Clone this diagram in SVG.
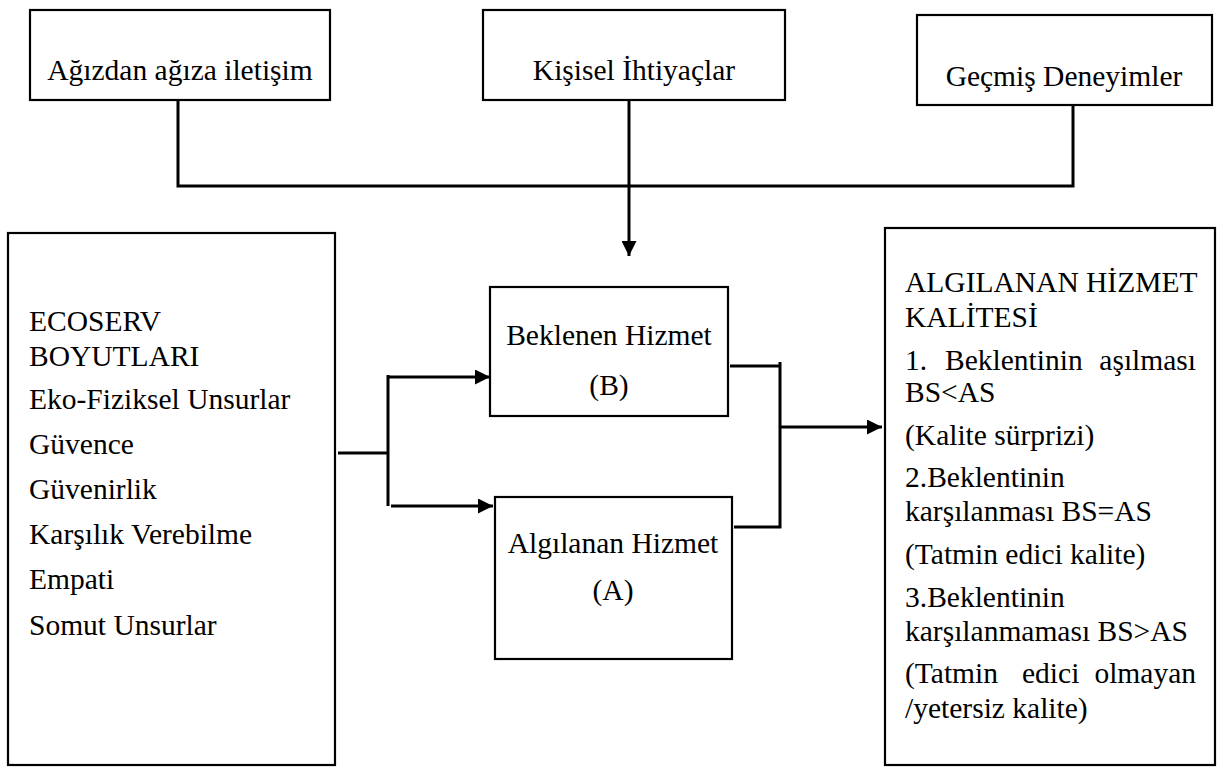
<svg xmlns="http://www.w3.org/2000/svg" width="1222" height="768" viewBox="0 0 1222 768">
<style>
.box{fill:#fff;stroke:#000;stroke-width:2.2}
.t{font-size:29.5px;fill:#000}
.c{text-anchor:middle}
.ln{fill:none;stroke:#000;stroke-width:3}
</style>
<defs>
<marker id="ah" viewBox="0 0 10 10" refX="10" refY="5" markerWidth="15" markerHeight="15" markerUnits="userSpaceOnUse" orient="auto">
<path d="M0,0 L10,5 L0,10 z" fill="#000"/>
</marker>
</defs>
<rect width="1222" height="768" fill="#fff"/>
<g id="connectors">
<path class="ln" d="M178,100 V186 H1073 V105"/>
<path class="ln" d="M629,100 V256" marker-end="url(#ah)"/>
<path class="ln" d="M338,453 H388"/>
<path class="ln" d="M388,375 V506"/>
<path class="ln" d="M388,377 H490" marker-end="url(#ah)"/>
<path class="ln" d="M391,506 H493" marker-end="url(#ah)"/>
<path class="ln" d="M730,366 H780"/>
<path class="ln" d="M780,362 V527 H734"/>
<path class="ln" d="M780,427 H882" marker-end="url(#ah)"/>
</g>
<g font-family="Liberation Serif, 'Times New Roman', serif">
<g id="n1"><rect class="box" x="30" y="10" width="300" height="90"/><text class="t c" x="180" y="80">Ağızdan ağıza iletişim</text></g>
<g id="n2"><rect class="box" x="483" y="10" width="302" height="90"/><text class="t c" x="634" y="80">Kişisel İhtiyaçlar</text></g>
<g id="n3"><rect class="box" x="917" y="15" width="295" height="90"/><text class="t c" x="1064" y="86">Geçmiş Deneyimler</text></g>
<g id="n4"><rect class="box" x="8" y="233" width="327" height="532"/>
<text class="t" x="29" y="331">ECOSERV</text>
<text class="t" x="29" y="366">BOYUTLARI</text>
<text class="t" x="29" y="409">Eko-Fiziksel Unsurlar</text>
<text class="t" x="29" y="454">Güvence</text>
<text class="t" x="29" y="499">Güvenirlik</text>
<text class="t" x="29" y="544">Karşılık Verebilme</text>
<text class="t" x="29" y="589">Empati</text>
<text class="t" x="29" y="635">Somut Unsurlar</text>
</g>
<g id="n5"><rect class="box" x="490" y="287" width="238" height="129"/>
<text class="t c" x="609" y="345">Beklenen Hizmet</text>
<text class="t c" x="609" y="395">(B)</text></g>
<g id="n6"><rect class="box" x="495" y="497" width="237" height="162"/>
<text class="t c" x="613" y="553">Algılanan Hizmet</text>
<text class="t c" x="613" y="600">(A)</text></g>
<g id="n7"><rect class="box" x="885" y="228" width="330" height="537"/>
<text class="t" x="905" y="292">ALGILANAN HİZMET</text>
<text class="t" x="905" y="327">KALİTESİ</text>
<text class="t" x="905" y="370">1.<tspan x="945">Beklentinin</tspan><tspan x="1196" text-anchor="end">aşılması</tspan></text>
<text class="t" x="905" y="402">BS&lt;AS</text>
<text class="t" x="905" y="445">(Kalite sürprizi)</text>
<text class="t" x="905" y="487">2.Beklentinin</text>
<text class="t" x="905" y="521">karşılanması BS=AS</text>
<text class="t" x="905" y="564">(Tatmin edici kalite)</text>
<text class="t" x="905" y="607">3.Beklentinin</text>
<text class="t" x="905" y="641">karşılanmaması BS&gt;AS</text>
<text class="t" x="905" y="683">(Tatmin<tspan x="1022">edici</tspan><tspan x="1196" text-anchor="end">olmayan</tspan></text>
<text class="t" x="905" y="718">/yetersiz kalite)</text>
</g>
</g>
</svg>
